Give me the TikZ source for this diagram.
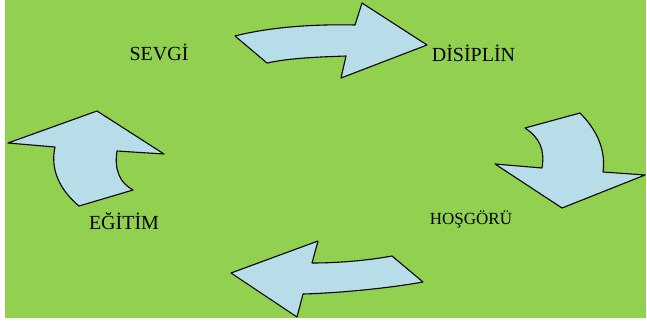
\documentclass[tikz,border=0pt]{standalone}
\usepackage{fontspec}
\setmainfont{Liberation Serif}
\definecolor{bggreen}{HTML}{92D050}
\definecolor{arrowblue}{HTML}{B7DEE8}
\tikzset{
  bentarrow/.style={fill=arrowblue, draw=black, line width=1.1pt, line join=round},
  word/.style={inner sep=0pt, anchor=base, font=\fontsize{20}{24}\selectfont},
}
\begin{document}
\begin{tikzpicture}[x=1pt,y=-1pt]
\useasboundingbox (0,0) rectangle (647,321);
\fill[bggreen] (5,0) rectangle (646,318);
% top arrow
\path[bentarrow] (235,36) .. controls (270,27) and (315,24) .. (355,25) -- (362,3) -- (427,45) -- (341,78) -- (346,56) .. controls (318,57) and (290,58) .. (267,63) -- cycle;
% right arrow
\path[bentarrow] (525,128) -- (580,113) .. controls (597,130) and (606,150) .. (603,172) -- (645,175) -- (562,208) -- (495,164) -- (542,168) .. controls (545,150) and (540,138) .. (525,128) -- cycle;
% bottom arrow
\path[bentarrow] (423,282) -- (392,256) .. controls (365,261) and (335,263) .. (312,263) -- (318,241) -- (231,273) -- (297,317) -- (303,294) .. controls (340,293) and (390,288) .. (423,282) -- cycle;
% left arrow
\path[bentarrow] (97,111) -- (164,154) -- (117,151) .. controls (114,170) and (120,183) .. (133,190) -- (79,206) .. controls (60,190) and (50,170) .. (55,147) -- (8,143) -- cycle;
% labels
\node[word] (sevgi) at (159,60.7) {SEVGİ};
\node[word] (disiplin) at (473.5,61.7) {DİSİPLİN};
\node[word, font=\fontsize{17}{20}\selectfont] (hosgoru) at (471,224.3) {HOŞGÖRÜ};
\node[word] (egitim) at (124,229.3) {EĞİTİM};
\end{tikzpicture}
\end{document}
